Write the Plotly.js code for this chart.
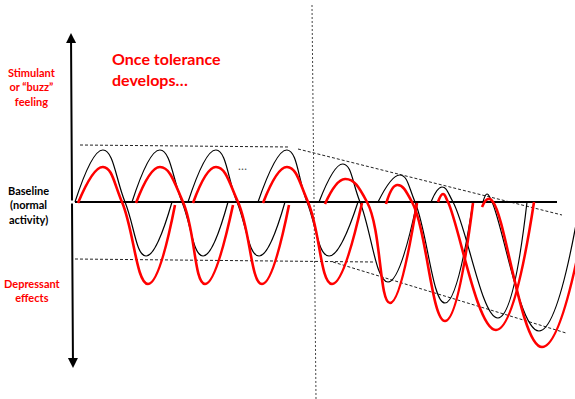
<!DOCTYPE html>
<html>
<head>
<meta charset="utf-8">
<script src="https://cdn.plot.ly/plotly-3.0.1.min.js"></script>
<style>html,body{margin:0;padding:0;background:#fff;}#chart{width:575px;height:399px;}</style>
</head>
<body>
<div id="chart"></div>
<script>
// Time axis (arbitrary units) and effect level (0 = baseline, + stimulant, - depressant)
// Black (thin) response cycles
var blackStart   = [75, 132, 188, 258, 319, 378, 431, 483];
var blackPeakX   = [103, 160, 216, 287, 343, 400, 442, 487];
var blackPeak    = [52, 52, 52, 52, 38, 27, 15, 8];
var blackCross   = [125, 182, 237, 307, 360, 415, 453, 492];
var blackTroughX = [146, 203, 259, 329, 388, 445, 498, 539];
var blackTrough  = [-54, -54, -54, -54, -80, -101, -116, -129];
var blackEnd     = [172, 228, 285, 358, 417, 473, 527, 580];

// Red (thick) response cycles
var redStart   = [78, 136, 193, 263, 325, 386, 438, 482];
var redStartY  = [-1, -1, -1, -1, -2, -2, 0, -5];
var redPeakX   = [103, 160, 216, 287, 345, 397, 443, 488];
var redPeak    = [35, 35, 35, 35, 23, 17, 8, 3];
var redCross   = [122, 183, 238, 308, 367, 412, 448, 493];
var redTroughX = [148, 205, 262, 332, 390, 445, 496, 542];
var redTrough  = [-82, -82, -82, -82, -101, -119, -128, -145];
var redEnd     = [175, 233, 289, 362, 417, 473, 534, 588];
var redEndY    = [-3, -3, -3, -1, -1, -1, 0, 0];

// Guide lines (envelopes)
var topFlatX = [80, 290],  topFlatY = [57, 55];
var topSlopeX = [298, 562], topSlopeY = [53, -13];
var botFlatX = [75, 373],  botFlatY = [-57, -60];
var botSlopeX = [333, 566], botSlopeY = [-60, -131];
var baseX = [75, 557], baseY = [0, 0];
var dividerX = [312, 316], dividerY = [197, -197];

function buildCycles(sx, sy, px, py, cx, tx, ty, ex, ey) {
  var X = [], Y = [];
  for (var i = 0; i < sx.length; i++) {
    X.push(sx[i], px[i], cx[i], tx[i], ex[i], null);
    Y.push(sy ? sy[i] : 0, py[i], 0, ty[i], ey ? ey[i] : 0, null);
  }
  return {x: X, y: Y};
}
var blk = buildCycles(blackStart, null, blackPeakX, blackPeak, blackCross, blackTroughX, blackTrough, blackEnd, null);
var red = buildCycles(redStart, redStartY, redPeakX, redPeak, redCross, redTroughX, redTrough, redEnd, redEndY);

var dash = {color: '#222', width: 1, dash: '3px,2px'};
var traces = [
  {x: topFlatX, y: topFlatY, mode: 'lines', line: dash},
  {x: topSlopeX, y: topSlopeY, mode: 'lines', line: dash},
  {x: botFlatX, y: botFlatY, mode: 'lines', line: dash},
  {x: botSlopeX, y: botSlopeY, mode: 'lines', line: dash},
  {x: dividerX, y: dividerY, mode: 'lines', line: {color: '#444', width: 1, dash: '2px,2px'}},
  {x: baseX, y: baseY, mode: 'lines', line: {color: '#000', width: 2}},
  {x: blk.x, y: blk.y, mode: 'lines', connectgaps: false, line: {color: '#000', width: 1.2, shape: 'spline', smoothing: 1.3}},
  {x: red.x, y: red.y, mode: 'lines', connectgaps: false, line: {color: '#ff0000', width: 2.6, shape: 'spline', smoothing: 1.3}}
];

var F = 'Lato, "Open Sans", sans-serif';
function lab(txt, x, y, color, size, anchor) {
  return {text: txt, x: x, y: y, xref: 'x', yref: 'y', showarrow: false, xanchor: anchor || 'center', yanchor: 'middle',
          align: anchor === 'left' ? 'left' : 'center', font: {family: F, size: size, color: color, weight: 'bold'}};
}
var annotations = [
  lab('<b>Once tolerance<br>develops…</b>', 110, 133, '#ff0000', 16, 'left'),
  lab('<b>Stimulant<br>or “buzz”<br>feeling</b>', 32, 115, '#ff0000', 11),
  lab('<b>Baseline<br>(normal<br>activity)</b>', 28, -3, '#000', 11),
  lab('<b>Depressant<br>effects</b>', 32, -88, '#ff0000', 11),
  {text: '…', x: 242, y: 37, xref: 'x', yref: 'y', showarrow: false, font: {family: F, size: 12, color: '#555'}},
  {text: '', x: 71, y: 169, ax: 72, ay: 0, xref: 'x', yref: 'y', axref: 'x', ayref: 'y', showarrow: true,
   arrowhead: 2, arrowsize: 1, arrowwidth: 2, arrowcolor: '#000'},
  {text: '', x: 73, y: -166, ax: 72, ay: 0, xref: 'x', yref: 'y', axref: 'x', ayref: 'y', showarrow: true,
   arrowhead: 2, arrowsize: 1, arrowwidth: 2, arrowcolor: '#000'}
];

var layout = {
  width: 575, height: 399,
  margin: {l: 0, r: 0, t: 0, b: 0},
  paper_bgcolor: '#fff', plot_bgcolor: '#fff',
  showlegend: false,
  xaxis: {range: [0, 575], visible: false, fixedrange: true},
  yaxis: {range: [-197, 202], visible: false, fixedrange: true},
  annotations: annotations
};
Plotly.newPlot('chart', traces, layout, {staticPlot: true, displayModeBar: false});
</script>
</body>
</html>
